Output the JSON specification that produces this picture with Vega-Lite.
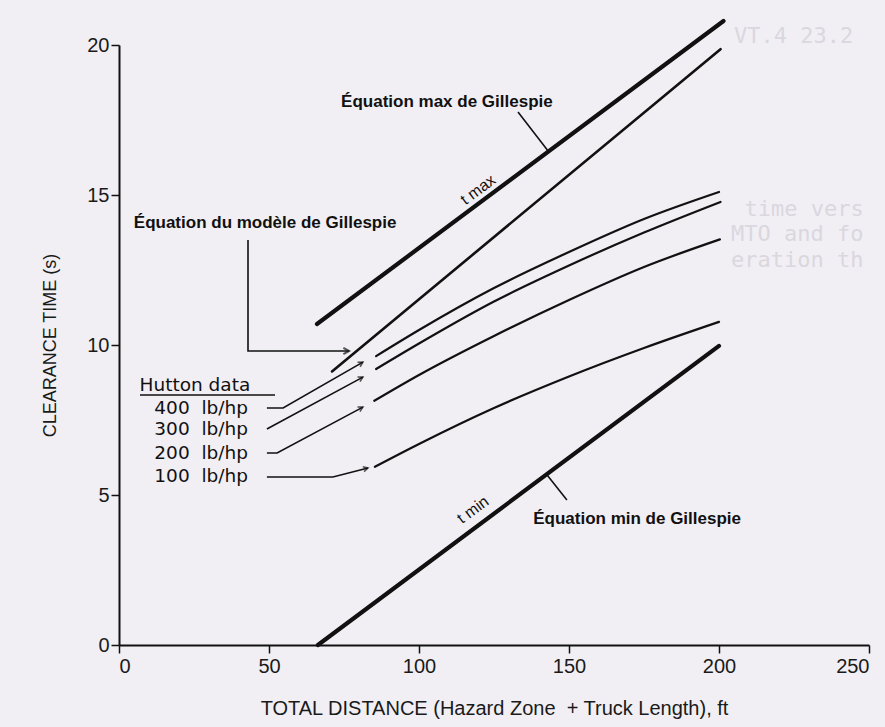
{
  "$schema": "https://vega.github.io/schema/vega-lite/v6.json",
  "width": 750,
  "height": 600,
  "autosize": "none",
  "padding": {"left": 119, "top": 45, "right": 16, "bottom": 82},
  "background": "#f1eff4",
  "config": {
    "view": {"stroke": null},
    "font": "Liberation Sans",
    "axis": {
      "grid": false,
      "domainColor": "#111111",
      "domainWidth": 2,
      "tickColor": "#111111",
      "tickWidth": 1.5,
      "tickSize": 8,
      "labelColor": "#1a1a1a",
      "labelFont": "Liberation Sans",
      "labelFontSize": 20,
      "titleFont": "Liberation Sans",
      "titleFontWeight": "normal",
      "titleColor": "#1a1a1a"
    }
  },
  "datasets": {
    "curves": [
      {"series": "tmax", "x": 66, "y": 10.7},
      {"series": "tmax", "x": 201.5, "y": 20.8},
      {"series": "tmin", "x": 66.3, "y": 0},
      {"series": "tmin", "x": 200, "y": 9.97},
      {"series": "model", "x": 71, "y": 9.12},
      {"series": "model", "x": 200.5, "y": 19.86},
      {"series": "h400", "x": 85.7, "y": 9.63},
      {"series": "h400", "x": 100, "y": 10.5},
      {"series": "h400", "x": 125, "y": 11.9},
      {"series": "h400", "x": 150, "y": 13.1},
      {"series": "h400", "x": 175, "y": 14.2},
      {"series": "h400", "x": 200, "y": 15.1},
      {"series": "h300", "x": 85.7, "y": 9.2},
      {"series": "h300", "x": 100, "y": 10.05},
      {"series": "h300", "x": 125, "y": 11.45},
      {"series": "h300", "x": 150, "y": 12.65},
      {"series": "h300", "x": 175, "y": 13.75},
      {"series": "h300", "x": 200.5, "y": 14.77},
      {"series": "h200", "x": 85.1, "y": 8.14},
      {"series": "h200", "x": 100, "y": 9.0},
      {"series": "h200", "x": 125, "y": 10.3},
      {"series": "h200", "x": 150, "y": 11.5},
      {"series": "h200", "x": 175, "y": 12.6},
      {"series": "h200", "x": 200.3, "y": 13.52},
      {"series": "h100", "x": 85.3, "y": 5.94},
      {"series": "h100", "x": 100, "y": 6.7},
      {"series": "h100", "x": 125, "y": 7.9},
      {"series": "h100", "x": 150, "y": 8.95},
      {"series": "h100", "x": 175, "y": 9.9},
      {"series": "h100", "x": 200, "y": 10.77}
    ],
    "leaders": [
      {"id": "l400", "o": 1, "x": 49.3, "y": 7.9},
      {"id": "l400", "o": 2, "x": 54.7, "y": 7.9},
      {"id": "l400", "o": 3, "x": 81.3, "y": 9.43},
      {"id": "l300", "o": 1, "x": 49.3, "y": 7.2},
      {"id": "l300", "o": 2, "x": 81.3, "y": 8.93},
      {"id": "l200", "o": 1, "x": 49.3, "y": 6.4},
      {"id": "l200", "o": 2, "x": 52.7, "y": 6.4},
      {"id": "l200", "o": 3, "x": 81.3, "y": 7.93},
      {"id": "l100", "o": 1, "x": 49.3, "y": 5.6},
      {"id": "l100", "o": 2, "x": 71.3, "y": 5.6},
      {"id": "l100", "o": 3, "x": 83, "y": 5.9},
      {"id": "lmodel", "o": 1, "x": 43, "y": 13.5},
      {"id": "lmodel", "o": 2, "x": 43, "y": 9.8},
      {"id": "lmodel", "o": 3, "x": 76.7, "y": 9.8},
      {"id": "lmax", "o": 1, "x": 133, "y": 17.77},
      {"id": "lmax", "o": 2, "x": 143.3, "y": 16.43},
      {"id": "lmin", "o": 1, "x": 142.7, "y": 5.67},
      {"id": "lmin", "o": 2, "x": 149.3, "y": 4.83}
    ],
    "underline": [
      {"x": 7, "x2": 52, "y": 8.33}
    ]
  },
  "layer": [
    {
      "data": {"name": "curves"},
      "transform": [{"filter": "datum.series === 'tmax' || datum.series === 'tmin'"}],
      "mark": {"type": "line", "color": "#111111", "strokeWidth": 4.2, "strokeCap": "round"},
      "encoding": {
        "x": {"field": "x", "type": "quantitative", "scale": {"domain": [0, 250], "nice": false},
          "axis": {"values": [0, 50, 100, 150, 200, 250], "title": "TOTAL DISTANCE (Hazard Zone\u00a0\u00a0+ Truck Length), ft", "titleFontSize": 20, "titlePadding": 22, "labelPadding": 3}},
        "y": {"field": "y", "type": "quantitative", "scale": {"domain": [0, 20], "nice": false},
          "axis": {"values": [0, 5, 10, 15, 20], "title": "CLEARANCE TIME (s)", "titleFontSize": 18, "titlePadding": 27, "labelPadding": 2}},
        "detail": {"field": "series"}
      }
    },
    {
      "data": {"name": "curves"},
      "transform": [{"filter": "datum.series === 'model'"}],
      "mark": {"type": "line", "color": "#111111", "strokeWidth": 2.6, "strokeCap": "round"},
      "encoding": {
        "x": {"field": "x", "type": "quantitative"},
        "y": {"field": "y", "type": "quantitative"}
      }
    },
    {
      "data": {"name": "curves"},
      "transform": [{"filter": "indexof(['h400','h300','h200','h100'], datum.series) >= 0"}],
      "mark": {"type": "line", "color": "#111111", "strokeWidth": 2.2, "interpolate": "monotone", "strokeCap": "round"},
      "encoding": {
        "x": {"field": "x", "type": "quantitative"},
        "y": {"field": "y", "type": "quantitative"},
        "detail": {"field": "series"}
      }
    },
    {
      "data": {"name": "leaders"},
      "mark": {"type": "line", "color": "#111111", "strokeWidth": 1.6},
      "encoding": {
        "x": {"field": "x", "type": "quantitative"},
        "y": {"field": "y", "type": "quantitative"},
        "detail": {"field": "id"},
        "order": {"field": "o"}
      }
    },
    {
      "data": {"values": [{"x": 81.3, "y": 9.43}]},
      "mark": {"type": "point", "shape": "M-1,-0.55L0,0L-1,0.55", "filled": false, "stroke": "#111111", "strokeWidth": 1.6, "size": 90, "angle": 330},
      "encoding": {"x": {"field": "x", "type": "quantitative"}, "y": {"field": "y", "type": "quantitative"}}
    },
    {
      "data": {"values": [{"x": 81.3, "y": 8.93}]},
      "mark": {"type": "point", "shape": "M-1,-0.55L0,0L-1,0.55", "filled": false, "stroke": "#111111", "strokeWidth": 1.6, "size": 90, "angle": 331.6},
      "encoding": {"x": {"field": "x", "type": "quantitative"}, "y": {"field": "y", "type": "quantitative"}}
    },
    {
      "data": {"values": [{"x": 81.3, "y": 7.93}]},
      "mark": {"type": "point", "shape": "M-1,-0.55L0,0L-1,0.55", "filled": false, "stroke": "#111111", "strokeWidth": 1.6, "size": 90, "angle": 332},
      "encoding": {"x": {"field": "x", "type": "quantitative"}, "y": {"field": "y", "type": "quantitative"}}
    },
    {
      "data": {"values": [{"x": 83, "y": 5.9}]},
      "mark": {"type": "point", "shape": "M-1,-0.55L0,0L-1,0.55", "filled": false, "stroke": "#111111", "strokeWidth": 1.6, "size": 90, "angle": 345.6},
      "encoding": {"x": {"field": "x", "type": "quantitative"}, "y": {"field": "y", "type": "quantitative"}}
    },
    {
      "data": {"values": [{"x": 76.7, "y": 9.8}]},
      "mark": {"type": "point", "shape": "M-1,-0.55L0,0L-1,0.55", "filled": false, "stroke": "#111111", "strokeWidth": 2, "size": 130, "angle": 0},
      "encoding": {"x": {"field": "x", "type": "quantitative"}, "y": {"field": "y", "type": "quantitative"}}
    },
    {
      "data": {"name": "underline"},
      "mark": {"type": "rule", "color": "#111111", "strokeWidth": 1.5},
      "encoding": {
        "x": {"field": "x", "type": "quantitative"},
        "x2": {"field": "x2"},
        "y": {"field": "y", "type": "quantitative"}
      }
    },
    {
      "data": {"values": [
        {"x": 48.7, "y": 14.07, "label": "Équation du modèle de Gillespie"},
        {"x": 109.3, "y": 18.1, "label": "Équation max de Gillespie"},
        {"x": 172.7, "y": 4.2, "label": "Équation min de Gillespie"}
      ]},
      "mark": {"type": "text", "font": "Liberation Sans", "fontWeight": "bold", "fontSize": 17, "color": "#111111", "align": "center", "baseline": "middle"},
      "encoding": {
        "x": {"field": "x", "type": "quantitative"},
        "y": {"field": "y", "type": "quantitative"},
        "text": {"field": "label"}
      }
    },
    {
      "data": {"values": [
        {"x": 25.3, "y": 8.67, "label": "Hutton data"}
      ]},
      "mark": {"type": "text", "font": "DejaVu Sans", "fontSize": 18.5, "color": "#111111", "align": "center", "baseline": "middle"},
      "encoding": {
        "x": {"field": "x", "type": "quantitative"},
        "y": {"field": "y", "type": "quantitative"},
        "text": {"field": "label"}
      }
    },
    {
      "data": {"values": [
        {"x": 43, "y": 7.9, "label": "400\u00a0\u00a0lb/hp"},
        {"x": 43, "y": 7.2, "label": "300\u00a0\u00a0lb/hp"},
        {"x": 43, "y": 6.4, "label": "200\u00a0\u00a0lb/hp"},
        {"x": 43, "y": 5.63, "label": "100\u00a0\u00a0lb/hp"}
      ]},
      "mark": {"type": "text", "font": "DejaVu Sans", "fontSize": 18.5, "color": "#111111", "align": "right", "baseline": "middle"},
      "encoding": {
        "x": {"field": "x", "type": "quantitative"},
        "y": {"field": "y", "type": "quantitative"},
        "text": {"field": "label"}
      }
    },
    {
      "data": {"values": [
        {"x": 119.7, "y": 15.17, "label": "t max"},
        {"x": 118, "y": 4.5, "label": "t min"}
      ]},
      "mark": {"type": "text", "font": "Liberation Sans", "fontSize": 16, "color": "#111111", "align": "center", "baseline": "middle", "angle": 323.4},
      "encoding": {
        "x": {"field": "x", "type": "quantitative"},
        "y": {"field": "y", "type": "quantitative"},
        "text": {"field": "label"}
      }
    },
    {
      "data": {"values": [
        {"x": 205, "y": 20.3, "label": "VT.4   23.2"},
        {"x": 208.5, "y": 14.55, "label": "time vers"},
        {"x": 204, "y": 13.7, "label": "MTO and fo"},
        {"x": 204, "y": 12.85, "label": "eration th"}
      ]},
      "mark": {"type": "text", "font": "DejaVu Sans Mono", "fontSize": 22, "color": "#dad7df", "align": "left", "baseline": "middle"},
      "encoding": {
        "x": {"field": "x", "type": "quantitative"},
        "y": {"field": "y", "type": "quantitative"},
        "text": {"field": "label"}
      }
    }
  ]
}
